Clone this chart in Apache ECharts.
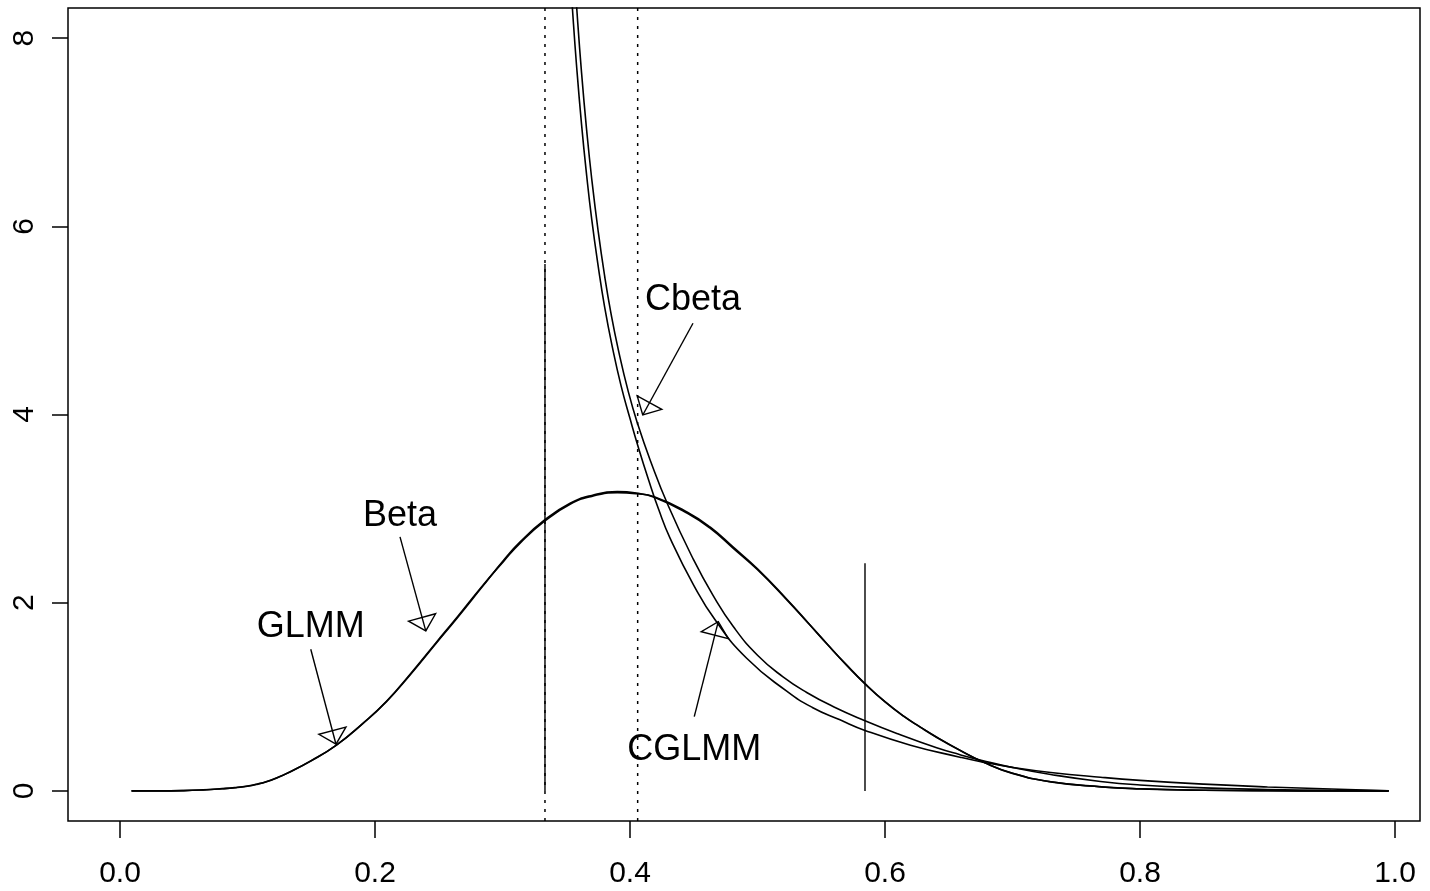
<!DOCTYPE html>
<html>
<head>
<meta charset="utf-8">
<title>Beta / GLMM densities</title>
<script src="https://cdn.jsdelivr.net/npm/echarts@6/dist/echarts.min.js"></script>
<style>
  html, body { margin: 0; padding: 0; background: #fff; }
  #chart { width: 1430px; height: 891px; }
</style>
</head>
<body>
<div id="chart"></div>
<script>
// ---- density curves (x, density) ----
const betaX = [0.009, 0.03, 0.05, 0.065, 0.08, 0.09, 0.1, 0.108, 0.115, 0.123, 0.131, 0.15, 0.17, 0.19, 0.209, 0.228, 0.248, 0.264, 0.283, 0.301, 0.314, 0.333, 0.353, 0.37, 0.39, 0.405, 0.419, 0.445, 0.463, 0.481, 0.5, 0.523, 0.54, 0.555, 0.57, 0.5843, 0.6, 0.615, 0.6275, 0.64, 0.659, 0.677, 0.7, 0.73, 0.77, 0.8, 0.85, 0.9, 0.95, 0.995];
const betaY = [0, 0, 0.003, 0.01, 0.022, 0.033, 0.05, 0.072, 0.098, 0.138, 0.186, 0.32, 0.489, 0.71, 0.949, 1.24, 1.569, 1.83, 2.15, 2.454, 2.649, 2.879, 3.057, 3.14, 3.18, 3.165, 3.12, 2.95, 2.79, 2.578, 2.35, 2.03, 1.778, 1.553, 1.334, 1.137, 0.945, 0.789, 0.678, 0.573, 0.429, 0.307, 0.187, 0.097, 0.043, 0.022, 0.007, 0.001, 0, 0];

const glmmX = betaX;
const glmmY = [0, 0, 0.003, 0.011, 0.024, 0.035, 0.052, 0.074, 0.1, 0.14, 0.188, 0.322, 0.49, 0.713, 0.952, 1.248, 1.578, 1.84, 2.16, 2.442, 2.636, 2.866, 3.046, 3.13, 3.17, 3.158, 3.125, 2.962, 2.802, 2.59, 2.36, 2.036, 1.782, 1.556, 1.336, 1.14, 0.948, 0.792, 0.681, 0.576, 0.431, 0.307, 0.186, 0.096, 0.042, 0.021, 0.006, 0.001, 0, 0];

const cbetaX = [0.356, 0.3582, 0.362, 0.366, 0.370, 0.375, 0.380, 0.385, 0.3908, 0.3987, 0.406, 0.4157, 0.43, 0.4497, 0.465, 0.481, 0.50, 0.52, 0.5386, 0.56, 0.5843, 0.61, 0.6405, 0.6588, 0.677, 0.70, 0.73, 0.769, 0.8, 0.85, 0.9, 0.95, 0.995];
const cbetaY = [8.78, 8.32, 7.63, 7.02, 6.50, 5.95, 5.48, 5.08, 4.69, 4.24, 3.90, 3.52, 3.03, 2.46, 2.08, 1.746, 1.442, 1.212, 1.046, 0.892, 0.746, 0.607, 0.458, 0.385, 0.32, 0.249, 0.174, 0.10, 0.063, 0.032, 0.015, 0.005, 0];

const cglmmX = [0.353, 0.3548, 0.358, 0.362, 0.366, 0.370, 0.375, 0.380, 0.3864, 0.3929, 0.40, 0.4065, 0.4144, 0.4225, 0.4314, 0.45, 0.4667, 0.4915, 0.5229, 0.543, 0.5647, 0.5843, 0.62, 0.6588, 0.677, 0.70, 0.73, 0.769, 0.8, 0.85, 0.9, 0.95, 0.995];
const cglmmY = [8.70, 8.32, 7.72, 7.08, 6.54, 6.07, 5.58, 5.15, 4.70, 4.31, 3.957, 3.652, 3.312, 2.99, 2.687, 2.185, 1.818, 1.409, 1.06, 0.887, 0.755, 0.643, 0.486, 0.358, 0.305, 0.25, 0.196, 0.145, 0.112, 0.072, 0.042, 0.02, 0];

// ---- reference lines ----
const dottedX = [0.3333, 0.406];          // full-height dotted verticals
const segX = [0.3333, 0.5843];            // solid verticals from 0 up to segTop
const segTop = [5.6, 2.42];

// ---- arrow annotations ----
const arrowNames = ['GLMM', 'Beta', 'Cbeta', 'CGLMM'];
const arrowLabelX = [0.1496, 0.2196, 0.4494, 0.4504];
const arrowLabelY = [1.737, 2.924, 5.216, 0.43];
const arrowTailY = [1.505, 2.70, 4.97, 0.789];
const arrowTipX = [0.1694, 0.2398, 0.410, 0.4692];
const arrowTipY = [0.496, 1.70, 3.995, 1.799];

// ---- axes ----
const xTicks = [0, 0.2, 0.4, 0.6, 0.8, 1.0];
const yTicks = [0, 2, 4, 6, 8];
const xMin = -0.0408, xMax = 1.0196;
const yMin = -0.32, yMax = 8.32;

const FONT = "'Liberation Sans', Arial, Helvetica, sans-serif";
const pairs = (xs, ys) => xs.map((x, i) => [x, ys[i]]);

function curve(name, xs, ys) {
  return {
    name, type: 'line', data: pairs(xs, ys),
    showSymbol: false, smooth: 0.5,
    lineStyle: { color: '#000', width: 1.6 },
    clip: true, silent: true, z: 3
  };
}

const segSeries = segX.map((x, i) => ({
  type: 'line', data: [[x, 0], [x, segTop[i]]],
  showSymbol: false, lineStyle: { color: '#000', width: 1.4 }, silent: true, z: 2
}));

const dottedSeries = dottedX.map(x => ({
  type: 'line', data: [[x, yMin], [x, yMax]],
  showSymbol: false, silent: true, z: 2,
  lineStyle: { color: '#000', width: 1.5, type: [3, 6] }
}));

const arrowRows = arrowNames.map((_, i) =>
  [arrowLabelX[i], arrowLabelY[i], arrowTailY[i], arrowTipX[i], arrowTipY[i]]);

const arrowSeries = {
  type: 'custom',
  data: arrowRows,
  silent: true,
  z: 5,
  renderItem(params, api) {
    const lx = api.value(0), ly = api.value(1), ty = api.value(2);
    const tx = api.value(3), tyy = api.value(4);
    const a = api.coord([lx, ty]);
    const b = api.coord([tx, tyy]);
    const c = api.coord([lx, ly]);
    const dx = b[0] - a[0], dy = b[1] - a[1];
    const len = Math.hypot(dx, dy);
    const ux = dx / len, uy = dy / len;
    const nx = -uy, ny = ux;
    const headLen = 14, halfW = 14;
    const mx = b[0] - headLen * ux, my = b[1] - headLen * uy;
    const p1 = [mx + halfW * nx, my + halfW * ny];
    const p2 = [mx - halfW * nx, my - halfW * ny];
    return {
      type: 'group',
      children: [
        { type: 'line', shape: { x1: a[0], y1: a[1], x2: b[0], y2: b[1] },
          style: { stroke: '#000', lineWidth: 1.4 } },
        { type: 'polygon', shape: { points: [b, p1, p2] },
          style: { fill: 'none', stroke: '#000', lineWidth: 1.4 } },
        { type: 'text', x: c[0], y: c[1],
          style: { text: arrowNames[params.dataIndex], fontSize: 36, fontFamily: FONT,
                   fill: '#000', align: 'center', verticalAlign: 'middle' } }
      ]
    };
  }
};

const chart = echarts.init(document.getElementById('chart'), null, { renderer: 'canvas' });
chart.setOption({
  animation: false,
  backgroundColor: '#fff',
  grid: { left: 68, right: 10, top: 8, bottom: 70, show: true,
          borderColor: '#000', borderWidth: 1.5, backgroundColor: 'transparent' },
  xAxis: {
    type: 'value', min: xMin, max: xMax,
    axisLine: { show: false, onZero: false },
    splitLine: { show: false },
    axisTick: { show: true, customValues: xTicks, length: 17, inside: false,
                lineStyle: { color: '#000', width: 1.5 } },
    axisLabel: { customValues: xTicks, margin: 38, fontSize: 30, fontFamily: FONT, color: '#000',
                 formatter: v => v.toFixed(1) }
  },
  yAxis: {
    type: 'value', min: yMin, max: yMax,
    axisLine: { show: false, onZero: false },
    splitLine: { show: false },
    axisTick: { show: true, customValues: yTicks, length: 16, inside: false,
                lineStyle: { color: '#000', width: 1.5 } },
    axisLabel: { customValues: yTicks, margin: 28, fontSize: 30, fontFamily: FONT, color: '#000',
                 rotate: 90, formatter: v => String(v) }
  },
  series: [
    curve('Beta', betaX, betaY),
    curve('GLMM', glmmX, glmmY),
    curve('Cbeta', cbetaX, cbetaY),
    curve('CGLMM', cglmmX, cglmmY),
    ...segSeries,
    ...dottedSeries,
    arrowSeries
  ]
});
</script>
</body>
</html>
